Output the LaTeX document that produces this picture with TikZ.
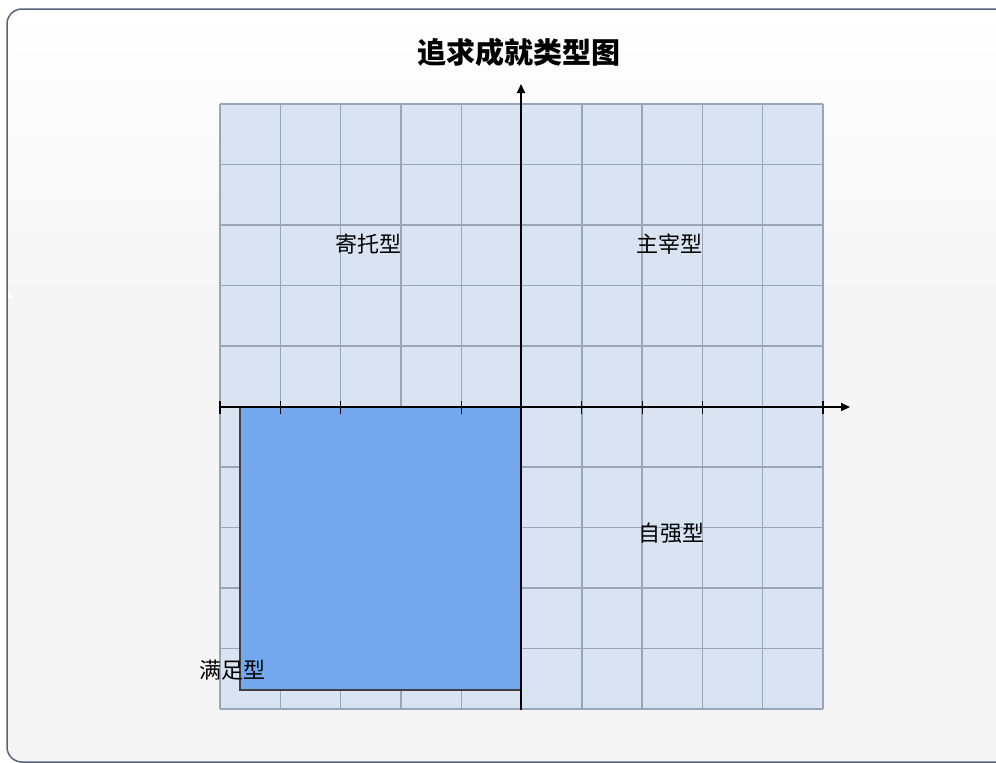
\documentclass[tikz,border=0pt]{standalone}
\usepackage{fontspec}
\newfontfamily\cjk{Noto Sans CJK SC}
\usetikzlibrary{arrows.meta}
\definecolor{bgc}{HTML}{F5F5F5}
\definecolor{framec}{HTML}{5A6478}
\definecolor{gridfill}{HTML}{DAE3F1}
\definecolor{gridline}{HTML}{98A6BA}
\definecolor{boxfill}{HTML}{73A8EE}
\tikzset{
  lbl/.style={font=\cjk\fontsize{22}{24}\selectfont, inner sep=0pt},
  ttl/.style={font=\cjk\bfseries\fontsize{29}{31}\selectfont, inner sep=0pt},
  axisline/.style={line width=2pt, -{Triangle[length=9pt,width=8pt]}},
  tickline/.style={line width=1.2pt},
}
\begin{document}
\begin{tikzpicture}[x=1pt,y=-1pt]
\useasboundingbox (0,0) rectangle (996,763);
% background frame
\fill[white] (0,0) rectangle (996,763);
\shade[top color=white, bottom color=bgc, rounded corners=15pt] (7,9) rectangle (1010,300);
\fill[bgc] (7,298) -- (7,400) [rounded corners=15pt] -- (7,762) -- (1010,762) [sharp corners] -- (1010,298) -- cycle;
\draw[framec, line width=1.5pt, rounded corners=15pt] (1010,9) -- (7,9) -- (7,762) -- (1010,762);
% grid
\fill[gridfill] (220,104) rectangle (823,709);
\foreach \i in {0,...,10} {
  \draw[gridline, line width=1.4pt] ({220+60.3*\i},104) -- ({220+60.3*\i},709);
  \draw[gridline, line width=1.4pt] (220,{104+60.5*\i}) -- (823,{104+60.5*\i});
}
% blue box
\fill[boxfill, draw=black!75, line width=1.2pt] (240,407) rectangle (521,690);
% axes
\coordinate (xs) at (220,407);
\coordinate (xe) at (850,407);
\coordinate (ys) at (521,710);
\coordinate (ye) at (521,84);
\draw[axisline] (xs) -- (xe);
\draw[axisline] (ys) -- (ye);
\foreach \i in {0,1,2,4,6,7,8,10} {
  \draw[tickline] ({220+60.3*\i},401) -- ({220+60.3*\i},414);
}
% labels
\node[ttl] (title) at (519,52) {追求成就类型图};
\node[lbl] (q2) at (368,244) {寄托型};
\node[lbl] (q1) at (669,244) {主宰型};
\node[lbl] (q4) at (671,533) {自强型};
\node[lbl] (q3) at (232,670) {满足型};
\end{tikzpicture}
\end{document}
